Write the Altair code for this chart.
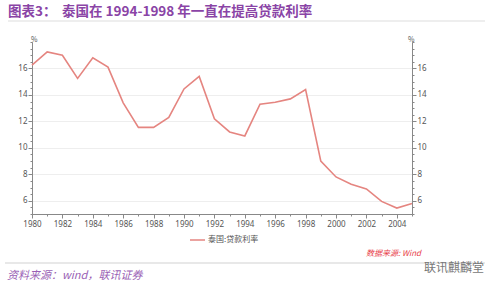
import altair as alt
import pandas as pd

years = list(range(1980, 2006))
rates = [16.25, 17.25, 17.0, 15.25, 16.8, 16.1, 13.4, 11.55, 11.55, 12.3,
         14.45, 15.4, 12.2, 11.2, 10.9, 13.3, 13.45, 13.7, 14.4, 9.0,
         7.8, 7.25, 6.9, 5.95, 5.45, 5.8]
series_name = "泰国:贷款利率"
x_label_values = list(range(1980, 2005, 2))
y_label_values = [6, 8, 10, 12, 14, 16]
y_minor_values = [v / 2 for v in range(10, 37)]
title_prefix = "图表3："
title_text = "泰国在 1994-1998 年一直在提高贷款利率"
source_text = "资料来源：wind，联讯证券"
data_src_text = "数据来源: Wind"
watermark = "联讯麒麟堂"

df = pd.DataFrame({"year": years, "rate": rates, "s": series_name})

W, H = 380, 172
PL, PT = 32, 42
AX = "#888888"
LAB = "#555555"
PURPLE = "#8a44a6"
LINE = "#e58580"

xscale = alt.Scale(domain=[1980, 2005], nice=False, zero=False)
yscale = alt.Scale(domain=[5, 18], nice=False, zero=False)

base = alt.Chart(df)

line = base.mark_line(color=LINE, strokeWidth=1.6).encode(
    x=alt.X("year:Q", scale=xscale,
            axis=alt.Axis(values=x_label_values, format="d", title=None, grid=False,
                          orient="bottom", domainColor=AX, tickColor=AX, tickSize=4,
                          labelFlush=False, labelOverlap=False,
                          labelColor=LAB, labelFontSize=8, labelFont="Noto Sans", labelPadding=2)),
    y=alt.Y("rate:Q", scale=yscale,
            axis=alt.Axis(values=y_label_values, title=None, grid=True, gridColor="#eeeeee",
                          orient="left", domainColor=AX, tickColor=AX, tickSize=4,
                          labelFlush=False,
                          labelColor=LAB, labelFontSize=8, labelFont="Noto Sans", labelPadding=1)),
)

minor = base.mark_line(opacity=0).encode(
    x=alt.X("year:Q", scale=xscale,
            axis=alt.Axis(values=years, labels=False, title=None, grid=False, orient="bottom",
                          domainColor=AX, tickColor=AX, tickSize=2)),
    y=alt.Y("rate:Q", scale=yscale,
            axis=alt.Axis(values=y_minor_values, labels=False, title=None, grid=False, orient="right",
                          domainColor=AX, tickColor=AX, tickSize=2)),
)

right = base.mark_line(opacity=0).encode(
    x=alt.X("year:Q", scale=xscale, axis=None),
    y=alt.Y("rate:Q", scale=yscale,
            axis=alt.Axis(values=y_label_values, title=None, grid=False, orient="right",
                          domainColor=AX, tickColor=AX, tickSize=4, labelFlush=False,
                          labelColor=LAB, labelFontSize=8, labelFont="Noto Sans", labelPadding=1)),
)

leftminor = base.mark_line(opacity=0).encode(
    x=alt.X("year:Q", scale=xscale, axis=None),
    y=alt.Y("rate:Q", scale=yscale,
            axis=alt.Axis(values=y_minor_values, labels=False, title=None, grid=False, orient="left",
                          domainColor=AX, tickColor=AX, tickSize=2)),
)

one = pd.DataFrame({"k": [0]})

def txt(text, x, y, size, color, weight="normal", style="normal", align="left", font="Noto Sans CJK SC"):
    return alt.Chart(pd.DataFrame({"t": [text]})).mark_text(
        align=align, baseline="middle", fontSize=size, color=color, fontWeight=weight,
        fontStyle=style, font=font).encode(
        x=alt.value(x - PL), y=alt.value(y - PT), text="t:N")

def hrule(x1, x2, y, color, width=1):
    return alt.Chart(one).mark_rule(color=color, strokeWidth=width).encode(
        x=alt.value(x1 - PL), x2=alt.value(x2 - PL), y=alt.value(y - PT))

layers = [
    line, minor, right, leftminor,
    txt(title_prefix, 8, 12, 13.5, PURPLE, weight="bold"),
    txt(title_text, 62, 12, 13.5, PURPLE, weight="bold"),
    hrule(8, 485, 21, "#dddddd", 1),
    txt("%", 31, 40, 7, LAB),
    txt("%", 408, 40, 7, LAB),
    alt.Chart(one).mark_rule(color=LINE, strokeWidth=1.5).encode(
        x=alt.value(190 - PL), x2=alt.value(205 - PL), y=alt.value(240 - PT)),
    txt(series_name, 208, 240, 8, LAB),
    txt(data_src_text, 366, 254, 8, "#e8404a", style="italic"),
    hrule(5, 485, 263, "#e0e0e0", 1.5),
    txt(source_text, 7, 276, 11, "#9a5fb5", style="italic"),
    txt(watermark, 424, 268, 12, "#777777"),
]

chart = alt.layer(*layers).resolve_axis(x="independent", y="independent").properties(
    width=W, height=H,
    autosize=alt.AutoSizeParams(type="none"),
    padding={"left": PL, "top": PT, "right": 500 - PL - W, "bottom": 292 - PT - H},
    background="white",
).configure_view(stroke=None)

chart.save("out.html", embed_options={"renderer": "svg", "actions": False})
